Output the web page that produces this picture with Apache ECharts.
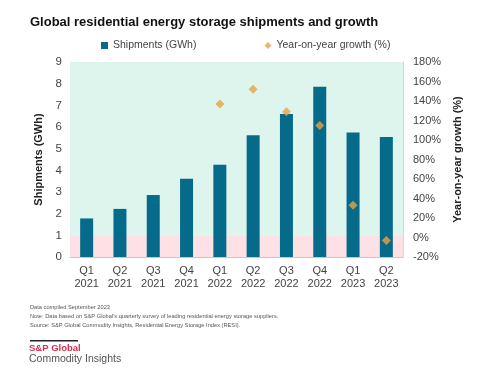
<!DOCTYPE html>
<html><head><meta charset="utf-8">
<script src="https://cdn.jsdelivr.net/npm/echarts@6/dist/echarts.min.js"></script>
<style>html,body{margin:0;padding:0;background:#fff}#c{width:500px;height:383px}</style>
</head><body><div id="c"></div>
<script>
var categories = ['Q1\n2021','Q2\n2021','Q3\n2021','Q4\n2021','Q1\n2022','Q2\n2022','Q3\n2022','Q4\n2022','Q1\n2023','Q2\n2023'];
var shipments = [1.78, 2.22, 2.86, 3.61, 4.26, 5.62, 6.6, 7.86, 5.75, 5.54];
var growth = [null, null, null, null, 137, 152, 129, 115, 33, -3];
var titleText = 'Global residential energy storage shipments and growth';
var footnotes = ['Data compiled September 2023',
  "Note: Data based on S&P Global's quarterly survey of leading residential energy storage suppliers.",
  'Source: S&P Global Commodity Insights, Residential Energy Storage Index (RESI).'];

var font = 'Liberation Sans, Arial, sans-serif';
var chart = echarts.init(document.getElementById('c'), null, {renderer:'canvas'});
chart.setOption({
  backgroundColor:'#fff',
  animation:false,
  textStyle:{fontFamily:font},
  title:{text:titleText, left:25, top:11, textStyle:{fontSize:13, fontWeight:'bold', color:'#111', fontFamily:font}},
  legend:{top:35, left:96, itemGap:68, itemWidth:7, itemHeight:7,
    textStyle:{fontSize:10.5, color:'#444', fontFamily:font},
    data:[{name:'Shipments (GWh)', icon:'rect'},{name:'Year-on-year growth (%)', icon:'diamond'}]},
  grid:{left:70, right:97, top:62, bottom:126},
  xAxis:{type:'category', data:categories,
    axisLine:{lineStyle:{color:'#c8c8c8'}}, axisTick:{show:false},
    axisLabel:{fontSize:11, color:'#444', lineHeight:13, margin:7, interval:0}},
  yAxis:[
    {type:'value', min:0, max:9, interval:1, position:'left',
     name:'Shipments (GWh)', nameLocation:'middle', nameGap:26, nameRotate:90,
     nameTextStyle:{fontSize:11, fontWeight:'bold', color:'#222'},
     axisLine:{show:true, lineStyle:{color:'#c8c8c8'}}, axisTick:{show:false},
     splitLine:{show:false}, axisLabel:{fontSize:11.5, color:'#444', margin:8}},
    {type:'value', min:-20, max:180, interval:20, position:'right',
     name:'Year-on-year growth (%)', nameLocation:'middle', nameGap:44, nameRotate:90,
     nameTextStyle:{fontSize:11, fontWeight:'bold', color:'#222'},
     axisLine:{show:true, lineStyle:{color:'#d8d8d8'}}, axisTick:{show:false},
     splitLine:{show:false}, axisLabel:{fontSize:11, color:'#444', margin:10, formatter:'{value}%'}}
  ],
  series:[
    {name:'Shipments (GWh)', type:'bar', yAxisIndex:0, data:shipments, barWidth:13,
     itemStyle:{color:'#066a8b'},
     markArea:{silent:true, data:[
       [{yAxis:1, itemStyle:{color:'#ddf5ec'}},{yAxis:9}],
       [{yAxis:0, itemStyle:{color:'#fde1e5'}},{yAxis:1}]
     ]}, z:2},
    {name:'Year-on-year growth (%)', type:'scatter', yAxisIndex:1, data:growth,
     symbol:'diamond', symbolSize:9, itemStyle:{color:'#e8a443'}, z:3}
  ],
  graphic:[
    {type:'text', left:30, top:304, style:{text:footnotes[0], fontSize:5.7, fill:'#555', fontFamily:font}},
    {type:'text', left:30, top:313, style:{text:footnotes[1], fontSize:5.7, fill:'#555', fontFamily:font}},
    {type:'text', left:30, top:322, style:{text:footnotes[2], fontSize:5.7, fill:'#555', fontFamily:font}},
    {type:'rect', shape:{x:30, y:340, width:48, height:1.5}, style:{fill:'#222'}},
    {type:'text', left:29, top:343, style:{text:'S&P Global', fontSize:9.5, fontWeight:'bold', fill:'#d6304f', fontFamily:font}},
    {type:'text', left:29, top:354, style:{text:'Commodity Insights', fontSize:10.5, fill:'#555', fontFamily:font}}
  ]
});
</script></body></html>
